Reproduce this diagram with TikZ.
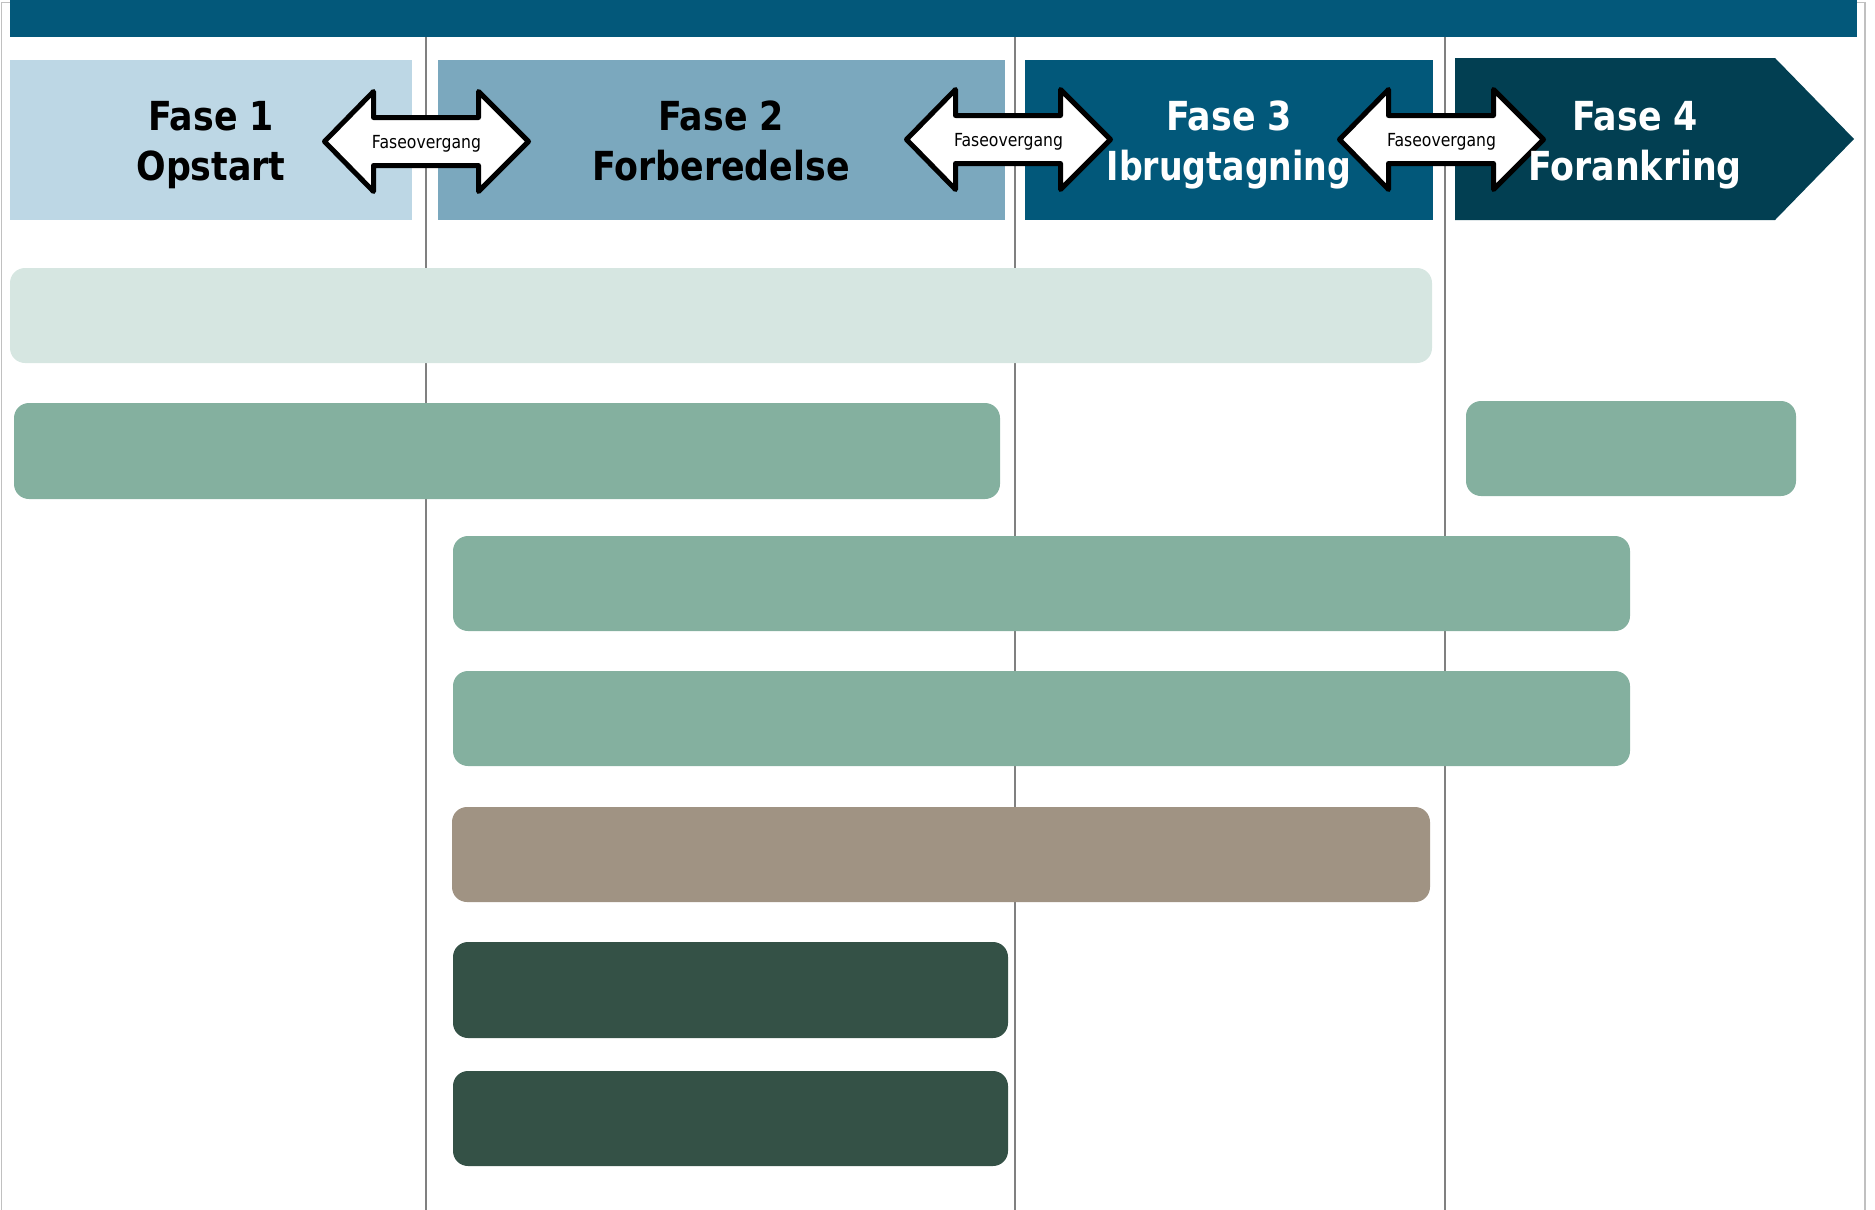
\documentclass[tikz,border=0pt]{standalone}
\usepackage{fontspec}
\setmainfont{DejaVu Sans}[FakeStretch=0.87]
\definecolor{topbar}{HTML}{03587A}
\definecolor{fone}{HTML}{BDD7E5}
\definecolor{ftwo}{HTML}{7BA8BE}
\definecolor{fthree}{HTML}{02587A}
\definecolor{ffour}{HTML}{023F52}
\definecolor{rpale}{HTML}{D6E6E1}
\definecolor{rgreen}{HTML}{84B09F}
\definecolor{rtan}{HTML}{A09383}
\definecolor{rdark}{HTML}{345146}
\definecolor{gridgray}{HTML}{808080}
\definecolor{framegray}{HTML}{C0C0C0}
\tikzset{
  phasebox/.style={rectangle, inner sep=0pt, outer sep=0pt, draw=none, anchor=north west},
  barbox/.style={rectangle, rounded corners=15pt, inner sep=0pt, outer sep=0pt, draw=none, anchor=north west},
  phasetext/.style={font=\fontsize{40}{48}\selectfont\bfseries, inner sep=0pt, anchor=base},
  arrowshape/.style={draw=black, fill=white, line width=5pt, line join=round},
  arrowtext/.style={font=\fontsize{18}{20}\selectfont, inner sep=0pt, anchor=base},
  gridline/.style={draw=gridgray, line width=2pt},
}
\newcommand\fasearrow[3]{%
  \draw[arrowshape] (#1-102,#2) -- (#1-53,#2-50) -- (#1-53,#2-24) -- (#1+52,#2-24) -- (#1+52,#2-50) -- (#1+102,#2) -- (#1+52,#2+50) -- (#1+52,#2+24) -- (#1-53,#2+24) -- (#1-53,#2+50) -- cycle;
  \node[arrowtext] (#3) at (#1,#2+6.5) {Faseovergang};}
\begin{document}
\begin{tikzpicture}[x=1pt,y=-1pt]
\useasboundingbox (0,0) rectangle (1875,1210);
% frame
\draw[framegray, line width=1.5pt] (1.5,1210) -- (1.5,2.5) -- (1865,2.5) -- (1865,1210);
% grid lines
\coordinate (g1t) at (425.5,37); \coordinate (g1b) at (425.5,1210);
\coordinate (g2t) at (1015,37); \coordinate (g2b) at (1015,1210);
\coordinate (g3t) at (1444.5,37); \coordinate (g3b) at (1444.5,1210);
\draw[gridline] (g1t) -- (g1b);
\draw[gridline] (g2t) -- (g2b);
\draw[gridline] (g3t) -- (g3b);
% top bar
\node[phasebox, fill=topbar, minimum width=1847pt, minimum height=37pt] (top) at (10,0) {};
% phase boxes
\node[phasebox, fill=fone, minimum width=402pt, minimum height=160pt] (p1) at (10,60) {};
\node[phasebox, fill=ftwo, minimum width=567pt, minimum height=160pt] (p2) at (438,60) {};
\node[phasebox, fill=fthree, minimum width=408pt, minimum height=160pt] (p3) at (1025,60) {};
\fill[ffour] (1455,58) -- (1775,58) -- (1854,139) -- (1775,220) -- (1455,220) -- cycle;
% bars
\node[barbox, fill=rpale, minimum width=1422pt, minimum height=95pt] (r1) at (10,268) {};
\node[barbox, fill=rgreen, minimum width=986pt, minimum height=96pt] (r2) at (14,403) {};
\node[barbox, fill=rgreen, minimum width=330pt, minimum height=95pt] (r2b) at (1466,401) {};
\node[barbox, fill=rgreen, minimum width=1177pt, minimum height=95pt] (r3) at (453,536) {};
\node[barbox, fill=rgreen, minimum width=1177pt, minimum height=95pt] (r4) at (453,671) {};
\node[barbox, fill=rtan, minimum width=978pt, minimum height=95pt] (r5) at (452,807) {};
\node[barbox, fill=rdark, minimum width=555pt, minimum height=96pt] (r6) at (453,942) {};
\node[barbox, fill=rdark, minimum width=555pt, minimum height=95pt] (r7) at (453,1071) {};
% arrows
\fasearrow{426.5}{141.5}{a1}
\fasearrow{1008.5}{139.5}{a2}
\fasearrow{1441.5}{139.5}{a3}
% phase texts
\node[phasetext, text=black] (p1a) at (211,130) {Fase 1};
\node[phasetext, text=black] (p1b) at (211,180) {Opstart};
\node[phasetext, text=black] (p2a) at (721,130) {Fase 2};
\node[phasetext, text=black] (p2b) at (721,180) {Forberedelse};
\node[phasetext, text=white] (p3a) at (1229,130) {Fase 3};
\node[phasetext, text=white] (p3b) at (1229,180) {\addfontfeature{FakeStretch=0.83}Ibrugtagning};
\node[phasetext, text=white] (p4a) at (1635,130) {Fase 4};
\node[phasetext, text=white] (p4b) at (1635,180) {Forankring};
\end{tikzpicture}
\end{document}
